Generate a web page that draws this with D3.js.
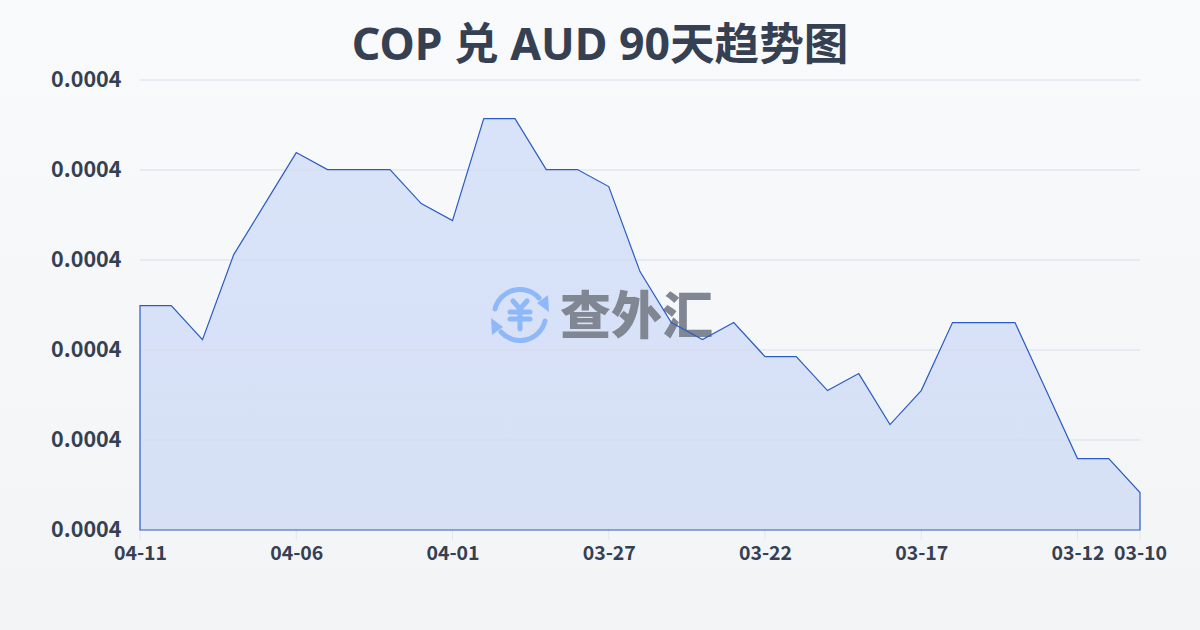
<!DOCTYPE html>
<html><head><meta charset="utf-8">
<script src="https://cdn.jsdelivr.net/npm/d3@7"></script>
<style>html,body{margin:0;padding:0;width:1200px;height:630px;overflow:hidden}svg{display:block}</style>
</head><body><svg id="c" width="1200" height="630"></svg>
<script>
const categories=["04-11","04-10","04-09","04-08","04-07","04-06","04-05","04-04","04-03","04-02","04-01","03-31","03-30","03-29","03-28","03-27","03-26","03-25","03-24","03-23","03-22","03-21","03-20","03-19","03-18","03-17","03-16","03-15","03-14","03-13","03-12","03-11","03-10"];
const values=[391,391,389,394,397,400,399,399,399,397,396,402,402,399,399,398,393,390,389,390,388,388,386,387,384,386,390,390,390,386,382,382,380].map(v=>v*1e-6);
const xTickLabels=["04-11","04-06","04-01","03-27","03-22","03-17","03-12","03-10"];
const yDomain=[377.8e-6,404.27e-6];
const yTickCount=6;
const titleText="COP 兑 AUD 90天趋势图";
const watermark="查外汇";

const svg=d3.select("#c");
const defs=svg.append("defs");
const bg=defs.append("linearGradient").attr("id","bg").attr("x1",0).attr("y1",0).attr("x2",0).attr("y2",1);
bg.append("stop").attr("offset",0).attr("stop-color","#f9fafc");
bg.append("stop").attr("offset",1).attr("stop-color","#f3f4f6");
svg.append("rect").attr("width",1200).attr("height",630).attr("fill","url(#bg)");

const x=d3.scalePoint().domain(categories).range([140,1140]);
const y=d3.scaleLinear().domain(yDomain).range([530,80]);
const titleFont="'Noto Sans','Noto Sans CJK SC',sans-serif";
const axisFont="'Noto Sans CJK SC',sans-serif";
const ink="#354052";

const yTicks=d3.range(yTickCount).map(i=>yDomain[0]+(yDomain[1]-yDomain[0])*i/(yTickCount-1));

const area=d3.area().x((d,i)=>x(categories[i])).y0(530).y1(d=>y(d));
const fillGrad=defs.append("linearGradient").attr("id","af").attr("x1",0).attr("y1",0).attr("x2",0).attr("y2",1);
fillGrad.append("stop").attr("offset",0).attr("stop-color","#2563eb").attr("stop-opacity",0.15);
fillGrad.append("stop").attr("offset",1).attr("stop-color","#2563eb").attr("stop-opacity",0.14);
svg.append("path").datum(values).attr("d",area).attr("fill","url(#af)").attr("stroke","none");

const gy=svg.append("g");
gy.selectAll("line").data(yTicks.slice(1)).join("line")
 .attr("x1",140).attr("x2",1140).attr("y1",d=>y(d)).attr("y2",d=>y(d))
 .attr("stroke","#d5dbe6").attr("stroke-opacity",0.85).attr("stroke-width",1);
gy.selectAll("text").data(yTicks).join("text")
 .attr("x",121.5).attr("y",d=>y(d)-1).attr("dy","0.35em").attr("text-anchor","end")
 .attr("font-family",axisFont).attr("font-weight",700).attr("font-size",21.5).attr("fill",ink)
 .text(d=>d3.format(".4f")(d));

const gx=svg.append("g");
const xt=categories.filter(c=>xTickLabels.includes(c));
gx.selectAll("line").data(xt).join("line")
 .attr("x1",d=>x(d)).attr("x2",d=>x(d)).attr("y1",530).attr("y2",540)
 .attr("stroke","#e2e5ea").attr("stroke-width",1);
gx.selectAll("text").data(xt).join("text")
 .attr("x",d=>x(d)+0.5).attr("y",560).attr("text-anchor","middle")
 .attr("font-family",axisFont).attr("font-weight",700).attr("font-size",19.5).attr("fill",ink)
 .text(d=>d);

// watermark
const wm=svg.append("g");
const blue="#8fb8f8";
const ic=wm.append("g").attr("transform","translate(520,315)").attr("fill","none").attr("stroke",blue).attr("stroke-linecap","round");
ic.append("path").attr("stroke-width",5).attr("d","M-25,-6A25.7,25.7 0 0 1 19,-17");
ic.append("path").attr("stroke-width",5).attr("d","M25,6A25.7,25.7 0 0 1 -19,17");
ic.append("path").attr("fill",blue).attr("stroke","none").attr("d","M17,-12L28,-20L29,-3Z");
ic.append("path").attr("fill",blue).attr("stroke","none").attr("d","M-17,12L-28,20L-29,3Z");
ic.append("path").attr("stroke-width",5).attr("d","M-7,-14L0,-6L7,-14M-10,-3H10M-10,4H10M0,-6V14");
wm.append("text").attr("x",560).attr("y",334).attr("font-family","'Noto Sans CJK SC'").attr("font-weight",900)
 .attr("font-size",51).attr("fill","#808692").text(watermark);

svg.append("path").datum(values).attr("d",area).attr("fill","none").attr("stroke","#2a5cc4").attr("stroke-width",1.2);

svg.append("text").attr("x",600).attr("y",60).attr("text-anchor","middle")
 .attr("font-family",titleFont).attr("font-weight",700).attr("font-size",44.6).attr("fill",ink).text(titleText);
</script></body></html>
